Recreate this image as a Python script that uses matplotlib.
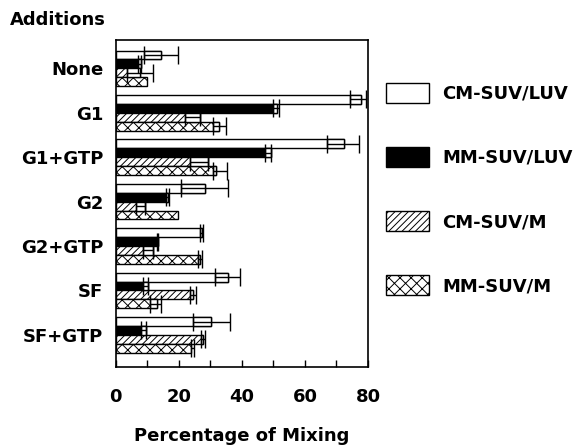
import numpy as np
import matplotlib
matplotlib.use("Agg")
import matplotlib.pyplot as plt

plt.rcParams['font.family'] = ['DejaVu Sans']
plt.rcParams['font.weight'] = 'bold'
plt.rcParams['hatch.linewidth'] = 0.7

# grupos (de arriba hacia abajo)
additions = ['None', 'G1', 'G1+GTP', 'G2', 'G2+GTP', 'SF', 'SF+GTP']
series = ['CM-SUV/LUV', 'MM-SUV/LUV', 'CM-SUV/M', 'MM-SUV/M']

# valores (% de mezcla) y error inferior / superior
cm_luv = [14.4, 77.9, 72.3, 28.2, 27.4, 35.5, 30.3]
cm_luv_lo = [5.4, 3.5, 5.3, 7.6, 0.8, 3.9, 5.8]
cm_luv_hi = [5.3, 1.5, 4.7, 7.3, 0.4, 4.0, 6.0]

mm_luv = [8.1, 51.2, 49.3, 16.6, 13.4, 10.2, 9.5]
mm_luv_lo = [1.0, 1.4, 1.9, 0.8, 0.3, 1.5, 1.4]
mm_luv_hi = [0.0, 0.5, 0.0, 0.3, 0.0, 0.0, 0.0]

cm_m = [7.8, 26.6, 29.2, 9.4, 11.8, 24.5, 27.5]
cm_m_lo = [4.2, 4.8, 5.8, 3.1, 3.1, 1.0, 0.6]
cm_m_hi = [4.0, 0.0, 0.0, 0.0, 0.0, 1.0, 0.7]

mm_m = [10.0, 32.6, 31.9, 19.7, 26.6, 13.1, 24.0]
mm_m_lo = [0.0, 1.8, 1.2, 0.0, 0.5, 2.3, 0.0]
mm_m_hi = [0.0, 2.4, 3.3, 0.0, 0.7, 1.3, 0.8]

valores = [cm_luv, mm_luv, cm_m, mm_m]
err_lo = [cm_luv_lo, mm_luv_lo, cm_m_lo, mm_m_lo]
err_hi = [cm_luv_hi, mm_luv_hi, cm_m_hi, mm_m_hi]
colores = ['white', 'black', 'white', 'white']
tramas = [None, None, '/////', 'xxx']

fig = plt.figure(figsize=(5.85, 4.48), dpi=100)
ax = fig.add_axes([0.198, 0.181, 0.431, 0.730])

pos = np.arange(len(additions))
h = 0.2
offsets = [-0.3, -0.1, 0.1, 0.3]

for k in range(4):
    y = pos + offsets[k]
    v = np.array(valores[k])
    lo = np.array(err_lo[k])
    hi = np.array(err_hi[k])
    ax.barh(y, v, height=h, color=colores[k], edgecolor='black', linewidth=1,
            hatch=tramas[k], label=series[k], zorder=2)
    # caja blanca del error inferior
    m = lo > 0
    ax.barh(y[m], lo[m], left=v[m] - lo[m], height=h, color='white',
            edgecolor='black', linewidth=1, zorder=3)
    m2 = (lo > 0) | (hi > 0)
    ax.errorbar(v[m2], y[m2], xerr=[lo[m2], hi[m2]], fmt='none', ecolor='black',
                elinewidth=1, capsize=6.5, capthick=1, zorder=4)

ax.set_xlim(0, 80)
ax.set_ylim(6.72, -0.64)
ax.set_yticks(pos)
ax.set_yticklabels(additions, fontsize=13, fontweight='bold')
ax.tick_params(axis='y', length=0, pad=9)
ax.set_xticks([0, 20, 40, 60, 80])
ax.set_xticks([10, 30, 50, 70], minor=True)
ax.tick_params(axis='x', which='both', direction='in', length=5, width=1)
ax.tick_params(axis='x', which='major', labelsize=13, pad=15)
for lab in ax.get_xticklabels():
    lab.set_fontweight('bold')
for s in ax.spines.values():
    s.set_linewidth(1.2)

ax.set_xlabel('Percentage of Mixing', fontsize=13, fontweight='bold', labelpad=15)
fig.text(0.017, 1 - 20 / 448, 'Additions', fontsize=13, fontweight='bold', va='center')

ax.legend(loc='upper left', bbox_to_anchor=(0.66, 0.815), bbox_transform=fig.transFigure,
          frameon=False, prop={'size': 13, 'weight': 'bold'},
          handlelength=2.4, handleheight=1.3, labelspacing=2.45, handletextpad=0.7,
          borderaxespad=0, borderpad=0)

plt.savefig('out.png', dpi=100)
